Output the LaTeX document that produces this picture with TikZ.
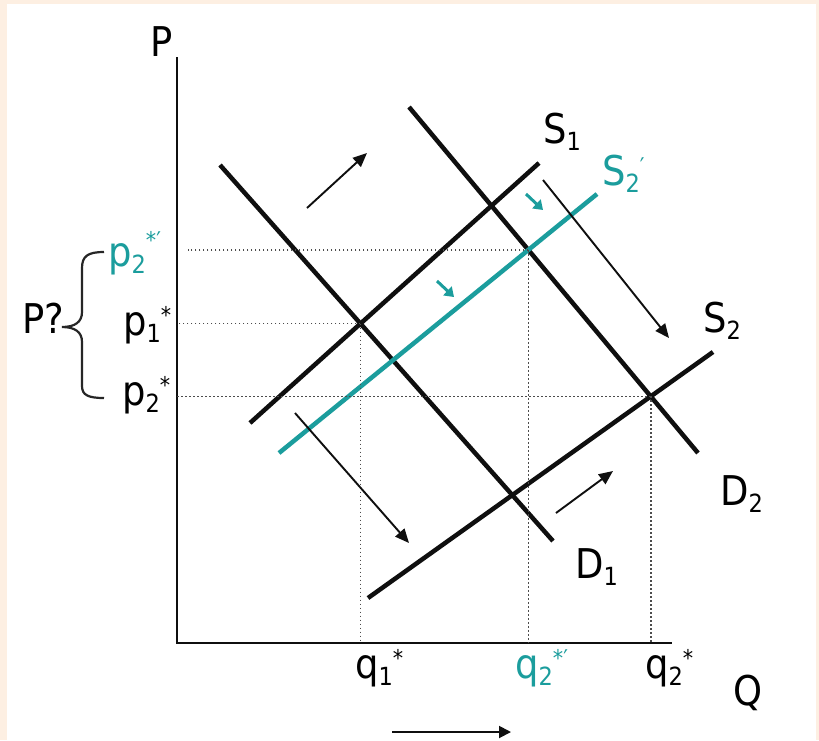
\documentclass[tikz,border=0pt]{standalone}
\usepackage{fontspec}
\setmainfont{DejaVu Sans}[FakeStretch=0.9]
\usetikzlibrary{arrows.meta,intersections}
\definecolor{framecol}{RGB}{253,239,226}
\definecolor{tealc}{RGB}{27,157,157}
\definecolor{inkc}{RGB}{15,15,15}
\newcommand\lsub[1]{\raisebox{-7pt}{\fontsize{25}{25}\selectfont #1}}
\newcommand\lsup[1]{\raisebox{12pt}{\fontsize{23}{23}\selectfont #1}}
\begin{document}
\begin{tikzpicture}[x=1pt,y=-1pt,
  curve/.style={line width=4.5pt,inkc},
  tcurve/.style={line width=4.5pt,tealc},
  ax/.style={line width=2.4pt,inkc},
  guide/.style={gray!60!black,line width=1.6pt,dash pattern=on 1.6pt off 2.4pt},
  mv/.style={line width=1.9pt,inkc,-{Triangle[length=14pt,width=12pt]}},
  tmv/.style={line width=3pt,tealc,-{Triangle[length=9pt,width=12pt]}},
  lbl/.style={font=\fontsize{41}{48}\selectfont,inner sep=0pt,anchor=base west}]
\fill[framecol] (0,0) rectangle (819,740);
\fill[white] (7,4) rectangle (816,740);
\useasboundingbox (0,0) rectangle (819,740);

% axes
\coordinate (O) at (177,643);
\coordinate (Ptop) at (177,57);
\coordinate (Qend) at (672,643);
\draw[ax] (Ptop) -- (O) -- (Qend);

% curves
\coordinate (d1a) at (220,165); \coordinate (d1b) at (553,541);
\coordinate (d2a) at (409,107); \coordinate (d2b) at (698,453);
\coordinate (s1a) at (250,423); \coordinate (s1b) at (539,163);
\coordinate (s2a) at (368,598); \coordinate (s2b) at (713,352);
\coordinate (s3a) at (279,453); \coordinate (s3b) at (597,194);
\draw[curve,name path=D1] (d1a) -- (d1b);
\draw[curve,name path=D2] (d2a) -- (d2b);
\draw[curve,name path=S1] (s1a) -- (s1b);
\draw[curve,name path=S2] (s2a) -- (s2b);
\draw[tcurve,name path=S3] (s3a) -- (s3b);

\path[name intersections={of=D1 and S1,by=E1}];
\path[name intersections={of=D2 and S3,by=E3}];
\path[name intersections={of=D2 and S2,by=E2}];

% guides
\draw[guide] (E1) -- (E1 -| O);
\draw[guide] (E1) -- (E1 |- O);
\draw[guide] (E3) -- (188,0 |- E3);
\draw[guide] (E3) -- (E3 |- O);
\draw[guide] (E2) -- (E2 -| O);
\draw[guide] (E2) -- (E2 |- O);

% shift arrows
\coordinate (a1s) at (307,208); \coordinate (a1e) at (367,153);
\coordinate (a2s) at (543,180); \coordinate (a2e) at (669,338);
\coordinate (a3s) at (295,413); \coordinate (a3e) at (409,543);
\coordinate (a4s) at (556,513); \coordinate (a4e) at (613,471);
\coordinate (a5s) at (392,732); \coordinate (a5e) at (511,732);
\draw[mv] (a1s) -- (a1e);
\draw[mv] (a2s) -- (a2e);
\draw[mv] (a3s) -- (a3e);
\draw[mv] (a4s) -- (a4e);
\draw[mv,-{Triangle[length=12pt,width=12pt]}] (a5s) -- (a5e);
\coordinate (t1s) at (526,194); \coordinate (t1e) at (543,210);
\coordinate (t2s) at (437,281); \coordinate (t2e) at (454,297);
\draw[tmv] (t1s) -- (t1e);
\draw[tmv] (t2s) -- (t2e);

% brace
\draw[line width=2.2pt,gray!30!black]
  (104,252) .. controls (88,252) and (82,256) .. (82,268) -- (82,312)
  .. controls (82,322) and (75,327) .. (62,327)
  .. controls (75,327) and (82,332) .. (82,342) -- (82,386)
  .. controls (82,395) and (88,398) .. (104,398);

% labels
\node[lbl] (lP) at (150,56) {P};
\node[lbl] (lQ) at (733,705) {Q};
\node[lbl] (lS1) at (543,143) {S\lsub{1}};
\node[lbl,tealc] (lS3) at (602,185) {S\lsub{2}\raisebox{11pt}{\fontsize{23}{23}\selectfont ′}};
\node[lbl] (lS2) at (703,332) {S\lsub{2}};
\node[lbl] (lD2) at (720,505) {D\lsub{2}};
\node[lbl] (lD1) at (575,578) {D\lsub{1}};
\node[lbl] (lq1) at (355,678) {q\lsub{1}\lsup{*}};
\node[lbl,tealc] (lq3) at (515,678) {q\lsub{2}\lsup{*′}};
\node[lbl] (lq2) at (645,678) {q\lsub{2}\lsup{*}};
\node[lbl] (lPq) at (22,333) {P?};
\node[lbl,tealc] (lp3) at (108,266) {p\lsub{2}\raisebox{18pt}{\fontsize{23}{23}\selectfont *′}};
\node[lbl] (lp1) at (123,335) {p\lsub{1}\lsup{*}};
\node[lbl] (lp2) at (122,405) {p\lsub{2}\lsup{*}};
\end{tikzpicture}
\end{document}
